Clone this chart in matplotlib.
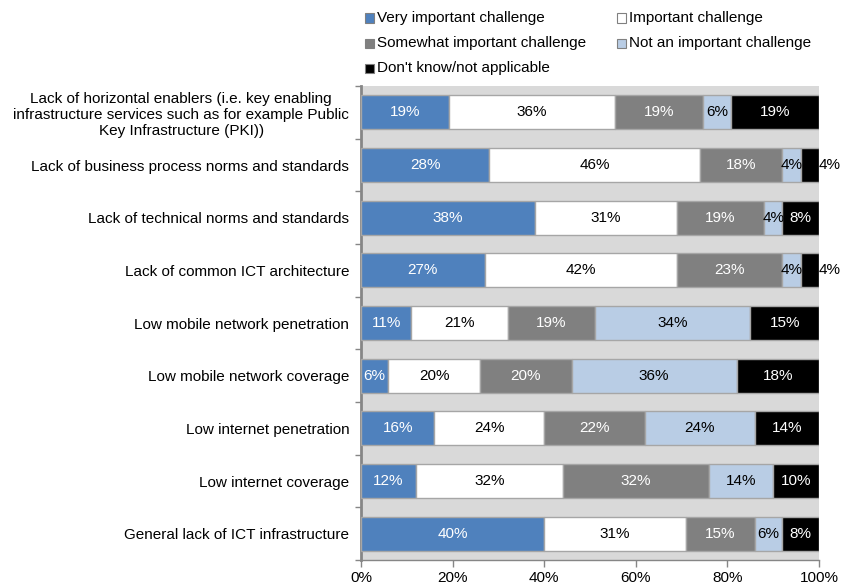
import numpy as np
import matplotlib.pyplot as plt
from matplotlib.patches import Rectangle

plt.rcParams['font.family'] = ['Liberation Sans', 'DejaVu Sans']

categories = [
    "Lack of horizontal enablers (i.e. key enabling\ninfrastructure services such as for example Public\nKey Infrastructure (PKI))",
    "Lack of business process norms and standards",
    "Lack of technical norms and standards",
    "Lack of common ICT architecture",
    "Low mobile network penetration",
    "Low mobile network coverage",
    "Low internet penetration",
    "Low internet coverage",
    "General lack of ICT infrastructure",
]
series = ["Very important challenge", "Important challenge",
          "Somewhat important challenge", "Not an important challenge",
          "Don't know/not applicable"]
very_important = [19, 28, 38, 27, 11, 6, 16, 12, 40]
important = [36, 46, 31, 42, 21, 20, 24, 32, 31]
somewhat = [19, 18, 19, 23, 19, 20, 22, 32, 15]
not_important = [6, 4, 4, 4, 34, 36, 24, 14, 6]
dont_know = [19, 4, 8, 4, 15, 18, 14, 10, 8]

colors = ["#4f81bd", "#ffffff", "#808080", "#b9cde5", "#000000"]
text_colors = ["white", "black", "white", "black", "white"]

data = np.array([very_important, important, somewhat, not_important, dont_know], dtype=float)
shares = data / data.sum(axis=0) * 100  # 100% stacked

fs = 11

fig = plt.figure(figsize=(8.44, 5.85), dpi=100)
ax = fig.add_axes([361 / 844, 1 - 560 / 585, 458 / 844, 474 / 585])
ax.set_facecolor("#d9d9d9")

y = np.arange(len(categories))
left = np.zeros(len(categories))
for i, name in enumerate(series):
    ax.barh(y, shares[i], left=left, height=0.65, color=colors[i],
            edgecolor="#a6a6a6", linewidth=1.0, label=name, zorder=3)
    for j in range(len(categories)):
        w = shares[i][j]
        cx = left[j] + w / 2
        tc = text_colors[i]
        # small last segments get their label pushed outside the bar
        if i == 4 and data[i][j] <= 4:
            cx = 102.3
            tc = "black"
        ax.text(cx, y[j], "%d%%" % data[i][j], ha="center", va="center",
                color=tc, fontsize=fs, zorder=4, clip_on=False)
    left += shares[i]

ax.set_xlim(0, 100)
ax.set_ylim(len(categories) - 0.5, -0.5)
ax.set_xticks(np.arange(0, 101, 20))
ax.set_xticklabels(["%d%%" % v for v in range(0, 101, 20)], fontsize=fs)
ax.set_yticks(y)
ax.set_yticklabels(categories, fontsize=fs, multialignment="center")
ax.tick_params(axis="y", length=0, pad=8.5)
ax.set_yticks(np.arange(-0.5, len(categories)), minor=True)
ax.tick_params(axis="y", which="minor", length=4, color="#868686", width=1)
ax.tick_params(axis="x", length=5, color="#868686", width=1, pad=3)

for s in ["top", "right"]:
    ax.spines[s].set_visible(False)
ax.spines["left"].set_color("#868686")
ax.spines["left"].set_linewidth(2)
ax.spines["bottom"].set_color("#868686")
ax.spines["bottom"].set_linewidth(1)

# legend drawn by hand in the top area
leg_pos = [(365, 18), (617, 18), (365, 43), (617, 43), (365, 68)]
for i, (px, py) in enumerate(leg_pos):
    fx = px / 844
    fy = 1 - py / 585
    fig.patches.append(Rectangle((fx, fy - 4.5 / 585), 9 / 844, 9 / 585,
                                 transform=fig.transFigure, facecolor=colors[i],
                                 edgecolor="#808080", linewidth=0.8))
    fig.text(fx + 12 / 844, fy, series[i], fontsize=fs, va="center", ha="left")

fig.savefig("out.png", dpi=100)
